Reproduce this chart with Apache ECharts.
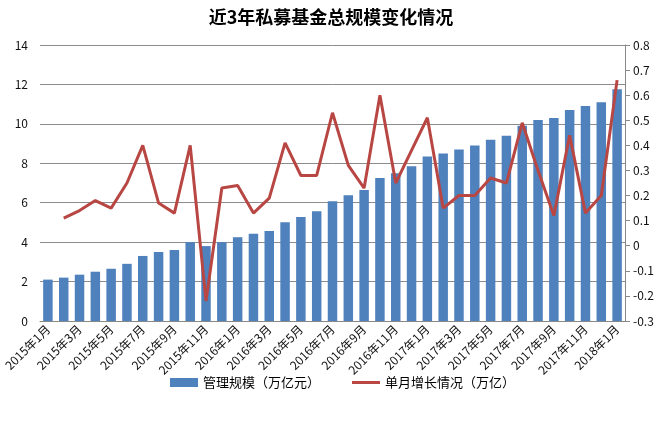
<!DOCTYPE html>
<html><head><meta charset="utf-8">
<script src="https://cdn.jsdelivr.net/npm/echarts@6/dist/echarts.min.js"></script>
<style>html,body{margin:0;padding:0;background:#fff}#c{width:662px;height:424px}</style>
</head><body><div id="c"></div>
<script>
const categories = ["2015年1月","2015年2月","2015年3月","2015年4月","2015年5月","2015年6月","2015年7月","2015年8月","2015年9月","2015年10月","2015年11月","2015年12月",
"2016年1月","2016年2月","2016年3月","2016年4月","2016年5月","2016年6月","2016年7月","2016年8月","2016年9月","2016年10月","2016年11月","2016年12月",
"2017年1月","2017年2月","2017年3月","2017年4月","2017年5月","2017年6月","2017年7月","2017年8月","2017年9月","2017年10月","2017年11月","2017年12月","2018年1月"];
const scaleValues = [2.1,2.2,2.35,2.5,2.65,2.9,3.3,3.5,3.6,4.0,3.8,4.0,4.25,4.42,4.57,5.01,5.27,5.57,6.08,6.38,6.65,7.25,7.5,7.85,8.35,8.5,8.7,8.9,9.2,9.4,9.9,10.2,10.3,10.7,10.9,11.1,11.75];
const growthValues = [null,0.11,0.14,0.18,0.15,0.25,0.40,0.17,0.13,0.40,-0.22,0.23,0.24,0.13,0.19,0.41,0.28,0.28,0.53,0.32,0.23,0.60,0.25,0.38,0.51,0.15,0.20,0.20,0.27,0.25,0.49,0.30,0.12,0.44,0.13,0.20,0.66];
const leftTicks = [0,2,4,6,8,10,12,14];
const rightTicks = [-0.3,-0.2,-0.1,0,0.1,0.2,0.3,0.4,0.5,0.6,0.7,0.8];

const font = '"Noto Sans CJK SC", sans-serif';
const chart = echarts.init(document.getElementById('c'));
chart.setOption({
  animation: false,
  textStyle: {fontFamily: font},
  title: {text: '近3年私募基金总规模变化情况', left: 'center', top: 3,
    textStyle: {fontSize: 18, fontWeight: 'bold', color: '#000', fontFamily: font}},
  grid: {left: 40, right: 37, top: 45, bottom: 103, containLabel: false},
  legend: {bottom: 30, left: 165, itemGap: 32, itemWidth: 28, itemHeight: 9,
    textStyle: {fontSize: 13, color: '#000', fontFamily: font},
    data: [{name: '管理规模（万亿元）', icon: 'rect'},
           {name: '单月增长情况（万亿）', icon: 'path://M0,0 L28,0 L28,3 L0,3 Z', itemStyle: {color: '#B84744'}}]},
  xAxis: {type: 'category', data: categories, boundaryGap: true,
    axisLine: {lineStyle: {color: '#888'}}, axisTick: {show: false},
    axisLabel: {interval: 1, rotate: 45, fontSize: 12, color: '#111', margin: 6, fontFamily: font}},
  yAxis: [
    {type: 'value', min: 0, max: 14, interval: 2,
      axisLine: {show: false}, axisTick: {show: false},
      axisLabel: {fontSize: 12, color: '#111', margin: 12,
        formatter: v => leftTicks.includes(v) ? String(v) : ''},
      splitLine: {lineStyle: {color: '#8c8c8c', width: 1}}},
    {type: 'value', min: -0.3, max: 0.8, interval: 0.1,
      axisLine: {show: true, lineStyle: {color: '#888'}},
      axisTick: {show: true, length: 5, lineStyle: {color: '#888'}},
      axisLabel: {fontSize: 12, color: '#111', margin: 8,
        formatter: v => { const r = Math.round(v*10)/10; return rightTicks.includes(r) ? String(r) : ''; }},
      splitLine: {show: false}}
  ],
  series: [
    {name: '管理规模（万亿元）', type: 'bar', data: scaleValues, yAxisIndex: 0,
      barWidth: '60%', itemStyle: {color: '#4F81BD'}},
    {name: '单月增长情况（万亿）', type: 'line', data: growthValues, yAxisIndex: 1,
      symbol: 'none', connectNulls: false,
      lineStyle: {color: '#B84744', width: 3}, itemStyle: {color: '#B84744'}}
  ]
});
</script></body></html>
